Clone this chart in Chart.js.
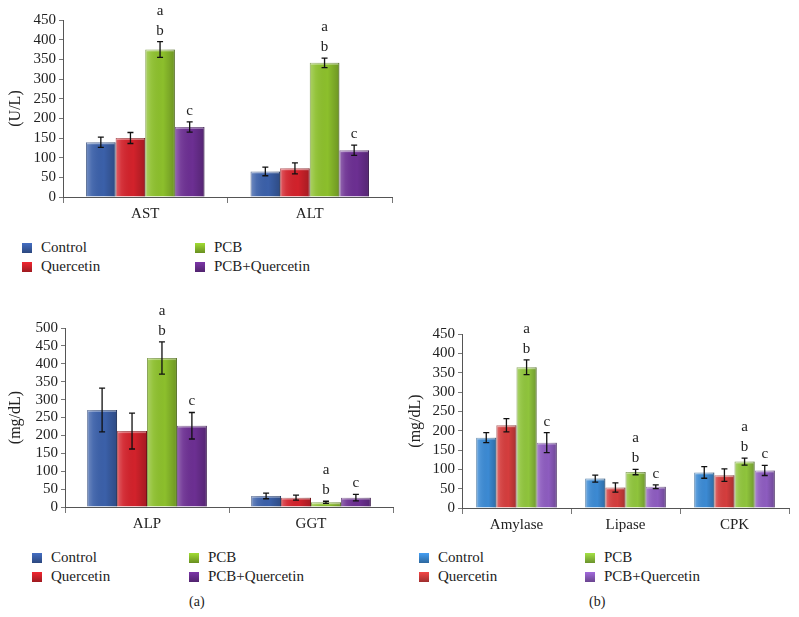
<!DOCTYPE html>
<html>
<head>
<meta charset="utf-8">
<script src="https://cdn.jsdelivr.net/npm/chart.js@4.4.1/dist/chart.umd.min.js"></script>
<style>
  body { margin: 0; background: #fff; }
  #wrap { position: relative; width: 799px; height: 617px; font-family: "Liberation Serif", "DejaVu Serif", serif; color: #222; }
  canvas { position: absolute; }
  .lg { position: absolute; font-size: 15px; line-height: 15px; white-space: nowrap; }
  .mk { position: absolute; width: 10px; height: 10px; }
  .cap { position: absolute; font-size: 14px; }
</style>
</head>
<body>
<div id="wrap">
  <canvas id="c1" width="400" height="222" style="left:0;top:0"></canvas>
  <canvas id="c2" width="400" height="240" style="left:0;top:300px"></canvas>
  <canvas id="c3" width="399" height="240" style="left:400px;top:300px"></canvas>
  <div class="cap" style="left:189px;top:594px">(a)</div>
  <div class="cap" style="left:589px;top:594px">(b)</div>
</div>
<script>
const seriesNames = ['Control', 'Quercetin', 'PCB', 'PCB+Quercetin'];
const darkColors = ['#3b60a9', '#d2222b', '#8cbf2c', '#6c2f92'];
const lightColors = ['#3c8ad3', '#d43d3d', '#8fc43c', '#8d5cbf'];

// (a) top: AST / ALT
const liverLabels = ['AST', 'ALT'];
const liverValues = [[139, 65], [150, 73], [375, 341], [178, 119]];
const liverErrors = [[13, 11], [14, 14], [20, 12], [13, 13]];
const liverMarks = [['', ''], ['', ''], ['ab', 'ab'], ['c', 'c']];
const liverTicks = [0, 450, 50];

// (a) bottom: ALP / GGT
const enzLabels = ['ALP', 'GGT'];
const enzValues = [[271, 31], [212, 26], [416, 13], [227, 26]];
const enzErrors = [[61, 8], [50, 7], [45, 3], [37, 9]];
const enzMarks = [['', ''], ['', ''], ['ab', 'ab'], ['c', 'c']];
const enzTicks = [0, 500, 50];

// (b): Amylase / Lipase / CPK
const pancLabels = ['Amylase', 'Lipase', 'CPK'];
const pancValues = [[182, 76, 92], [214, 53, 85], [364, 93, 120], [169, 55, 97]];
const pancErrors = [[13, 9, 15], [17, 12, 16], [19, 7, 9], [26, 5, 13]];
const pancMarks = [['', '', ''], ['', '', ''], ['ab', 'ab', 'ab'], ['c', 'c', 'c']];
const pancTicks = [0, 450, 50];

const serif = '"Liberation Serif", "DejaVu Serif", serif';

function shade(hex, f) {
  var n = parseInt(hex.slice(1), 16);
  var r = Math.min(255, Math.round(((n >> 16) & 255) * f));
  var g = Math.min(255, Math.round(((n >> 8) & 255) * f));
  var b = Math.min(255, Math.round((n & 255) * f));
  return 'rgb(' + r + ',' + g + ',' + b + ')';
}

const barExtras = {
  id: 'barExtras',
  afterDatasetsDraw(chart) {
    const ctx = chart.ctx;
    const ys = chart.scales.y;
    ctx.save();
    chart.data.datasets.forEach(function(ds, di) {
      const meta = chart.getDatasetMeta(di);
      meta.data.forEach(function(el, i) {
        const p = el.getProps(['x', 'y', 'base', 'width'], true);
        const left = p.x - p.width / 2;
        const g = ctx.createLinearGradient(left, 0, left + p.width, 0);
        g.addColorStop(0, 'rgba(255,255,255,0.28)');
        g.addColorStop(0.2, 'rgba(255,255,255,0.08)');
        g.addColorStop(0.6, 'rgba(0,0,0,0)');
        g.addColorStop(1, 'rgba(0,0,0,0.22)');
        ctx.fillStyle = g;
        ctx.fillRect(left, p.y, p.width, p.base - p.y);
        ctx.fillStyle = 'rgba(255,255,255,0.35)';
        ctx.fillRect(left + 1, p.y, p.width - 2, 2);
      });
    });
    chart.data.datasets.forEach(function(ds, di) {
      const meta = chart.getDatasetMeta(di);
      meta.data.forEach(function(el, i) {
        const p = el.getProps(['x'], true);
        const v = ds.data[i], e = ds.errors[i];
        const yt = ys.getPixelForValue(v + e);
        const yb = ys.getPixelForValue(v - e);
        ctx.strokeStyle = '#111';
        ctx.lineWidth = 1.3;
        ctx.beginPath();
        ctx.moveTo(p.x, yt); ctx.lineTo(p.x, yb);
        ctx.moveTo(p.x - 3, yt); ctx.lineTo(p.x + 3, yt);
        ctx.moveTo(p.x - 3, yb); ctx.lineTo(p.x + 3, yb);
        ctx.stroke();
        const m = ds.marks[i];
        ctx.fillStyle = '#222';
        ctx.font = '15px ' + serif;
        ctx.textAlign = 'center';
        ctx.textBaseline = 'middle';
        for (var k = 0; k < m.length; k++) {
          ctx.fillText(m[m.length - 1 - k], p.x, yt - 11 - k * 20);
        }
      });
    });
    ctx.restore();
  }
};

function makeChart(id, labels, values, errors, marks, ticks, colors, title, box) {
  const datasets = [];
  for (var s = 0; s < seriesNames.length; s++) {
    datasets.push({
      label: seriesNames[s],
      data: values[s],
      errors: errors[s],
      marks: marks[s],
      backgroundColor: colors[s],
      borderColor: shade(colors[s], 0.7),
      borderWidth: 1,
      barPercentage: 1.0,
      categoryPercentage: box.cat,
    });
  }
  return new Chart(document.getElementById(id), {
    type: 'bar',
    data: { labels: labels, datasets: datasets },
    options: {
      responsive: false,
      animation: false,
      layout: { padding: { top: box.top, right: box.right, left: 0, bottom: 0 } },
      plugins: { legend: { display: false }, tooltip: { enabled: false } },
      scales: {
        x: {
          grid: { display: true, drawOnChartArea: false, tickLength: 6, color: '#777' },
          border: { color: '#555' },
          ticks: { color: '#222', font: { family: serif, size: 15 }, padding: 2 },
          afterFit: function(sc) { sc.height = box.xh; },
        },
        y: {
          min: ticks[0], max: ticks[1],
          grid: { display: true, drawOnChartArea: false, tickLength: 4, color: '#777' },
          border: { color: '#555' },
          ticks: { stepSize: ticks[2], autoSkip: false, color: '#222', font: { family: serif, size: 15 }, padding: 3 },
          title: { display: true, text: title, color: '#222', font: { family: serif, size: 16 }, padding: { top: 6, bottom: 0 } },
          afterFit: function(sc) { sc.width = box.yw; },
        }
      }
    },
    plugins: [barExtras]
  });
}

function legend(x1, x2, y, colors) {
  const wrap = document.getElementById('wrap');
  const pos = [[x1, y], [x1, y + 19], [x2, y], [x2, y + 19]];
  for (var s = 0; s < seriesNames.length; s++) {
    const mk = document.createElement('div');
    mk.className = 'mk';
    mk.style.left = pos[s][0] + 'px';
    mk.style.top = (pos[s][1] - 5) + 'px';
    mk.style.background = 'linear-gradient(to bottom, ' + shade(colors[s], 1.15) + ', ' + shade(colors[s], 0.75) + ')';
    wrap.appendChild(mk);
    const tx = document.createElement('div');
    tx.className = 'lg';
    tx.style.left = (pos[s][0] + 19) + 'px';
    tx.style.top = (pos[s][1] - 8) + 'px';
    tx.textContent = seriesNames[s];
    wrap.appendChild(tx);
  }
}

makeChart('c1', liverLabels, liverValues, liverErrors, liverMarks, liverTicks, darkColors, '(U/L)',
  { top: 20, right: 8, xh: 25, yw: 63, cat: 0.72 });
makeChart('c2', enzLabels, enzValues, enzErrors, enzMarks, enzTicks, darkColors, '(mg/dL)',
  { top: 28, right: 7, xh: 33, yw: 65, cat: 0.73 });
makeChart('c3', pancLabels, pancValues, pancErrors, pancMarks, pancTicks, lightColors, '(mg/dL)',
  { top: 34, right: 10, xh: 32, yw: 62, cat: 0.74 });

legend(22, 195, 248, darkColors);
legend(32, 189, 558, darkColors);
legend(419, 585, 558, lightColors);
</script>
</body>
</html>
